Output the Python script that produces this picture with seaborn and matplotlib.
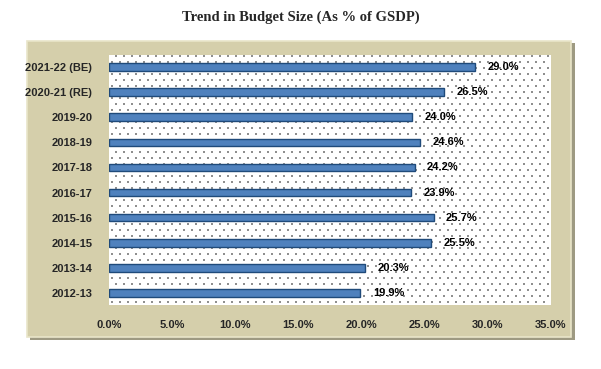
import matplotlib
matplotlib.use("Agg")
import matplotlib.pyplot as plt
import seaborn as sns
import pandas as pd
import numpy as np
from matplotlib.patches import Rectangle

# data
years = ['2012-13', '2013-14', '2014-15', '2015-16', '2016-17',
         '2017-18', '2018-19', '2019-20', '2020-21 (RE)', '2021-22 (BE)']
budget_pct = [19.9, 20.3, 25.5, 25.7, 23.9, 24.2, 24.6, 24.0, 26.5, 29.0]
tick_vals = [0, 5, 10, 15, 20, 25, 30, 35]

df = pd.DataFrame({'year': years, 'pct': budget_pct})
order = years[::-1]  # latest year on top

sns.set_style('white')
plt.rcParams['font.family'] = ['Liberation Sans', 'DejaVu Sans']

fig = plt.figure(figsize=(6.01, 3.69), dpi=100)
W, H = 601, 369

# tan frame with a shadow
fig.patches.append(Rectangle((30 / W, 1 - 340 / H), 545 / W, 297 / H,
                             transform=fig.transFigure, facecolor='#9e9a82',
                             edgecolor='none', zorder=-2))
fig.patches.append(Rectangle((27 / W, 1 - 337 / H), 544 / W, 296 / H,
                             transform=fig.transFigure, facecolor='#d5cfab',
                             edgecolor='#e9e5c9', linewidth=1.2, zorder=-1))

aw, ah = 442, 250
ax = fig.add_axes([109 / W, 1 - 305 / H, aw / W, ah / H])
ax.set_zorder(1)
ax.set_facecolor('white')

# dotted background pattern (decoration, axes fraction)
rows = np.arange(3, ah, 6)
px, py = [], []
for k, r in enumerate(rows):
    cols = np.arange(3 + (k % 2) * 4, aw, 8)
    px.extend(cols / aw)
    py.extend([r / ah] * len(cols))
ax.scatter(px, py, s=1.1, color='#8f8f8f', linewidths=0, marker='s',
           transform=ax.transAxes, zorder=0.5, clip_on=True)

sns.barplot(data=df, x='pct', y='year', order=order, orient='h',
            color='#4f81bd', edgecolor='#1f4a7a', linewidth=1.0,
            width=0.3, saturation=1, ax=ax, zorder=2)

# value labels at the bar ends
for i, yr in enumerate(order):
    v = budget_pct[years.index(yr)]
    ax.annotate(f'{v:.1f}%', xy=(v, i), xytext=(9, 0), textcoords='offset points',
                va='center', ha='left', fontsize=8, fontweight='bold', color='black')

ax.set_xlim(0, 35)
ax.set_ylim(9.48, -0.48)
ax.set_xticks(tick_vals)
ax.set_xticklabels([f'{t:.1f}%' for t in tick_vals])
ax.tick_params(axis='both', length=0, labelsize=8)
ax.tick_params(axis='x', pad=11)
ax.tick_params(axis='y', pad=12)
for lbl in ax.get_xticklabels() + ax.get_yticklabels():
    lbl.set_fontweight('bold')
ax.set_xlabel('')
ax.set_ylabel('')
for s in ax.spines.values():
    s.set_visible(False)

fig.text(0.5, 1 - 17 / H, 'Trend in Budget Size (As % of GSDP)', ha='center', va='center',
         fontsize=10.5, fontweight='bold', family=['Liberation Serif', 'DejaVu Serif'])

fig.savefig('out.png', dpi=100)
